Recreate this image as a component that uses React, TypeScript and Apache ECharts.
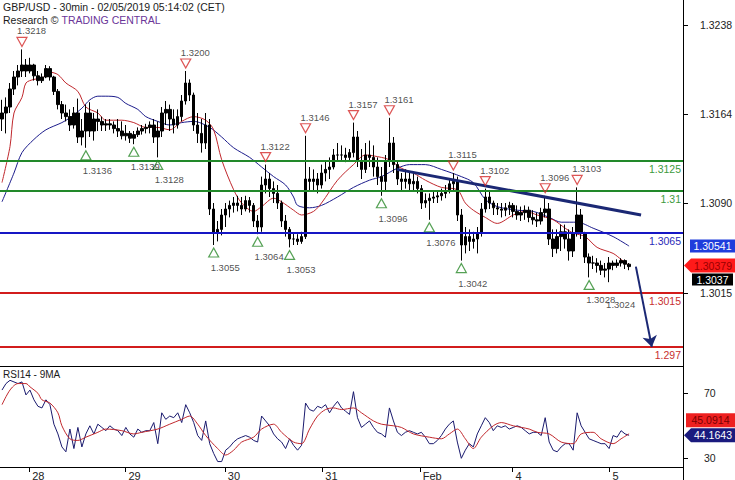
import React, { useEffect, useRef } from "react";
import * as echarts from "echarts";

// ---------------- data (hourly slots) ----------------
const SLOT_COUNT = 171;
const firstOpen = 1.316;
const highs = [
  1.3176, 1.3178, 1.319, 1.32, 1.3205, 1.3218, 1.321, 1.3211, 1.3206, 1.32,
  1.3198, 1.3205, 1.3204, 1.3196, 1.3185, 1.3175, 1.3172, 1.3168, 1.317, 1.3177,
  1.316, 1.3172, 1.3174, 1.3165, 1.3168, 1.3162, 1.316, 1.316, 1.3158, 1.316,
  1.3158, 1.3155, 1.315, 1.315, 1.3153, 1.3155, 1.3156, 1.3158, 1.316, 1.3158,
  1.317, 1.3175, 1.3172, 1.3168, 1.3168, 1.318, 1.32, 1.3193, 1.3182, 1.3165,
  1.316, 1.3165, 1.316, 1.309, 1.3075, 1.3085, 1.309, 1.3092, 1.3095, 1.3096,
  1.3095, 1.3096, 1.3095, 1.309, 1.308, 1.3112, 1.3122, 1.3115, 1.3108, 1.3105,
  1.3092, 1.308, 1.307, 1.3065, 1.3064, 1.3066, 1.3146, 1.312, 1.3118, 1.3115,
  1.3122, 1.3125, 1.3128, 1.3135, 1.314, 1.3138, 1.3136, 1.3135, 1.3157, 1.315,
  1.3135, 1.314, 1.3142, 1.3138, 1.3128, 1.312, 1.313, 1.3161, 1.3145, 1.3125,
  1.3115, 1.3118, 1.3116, 1.3115, 1.3112, 1.3105, 1.3098, 1.3098, 1.31, 1.31,
  1.3102, 1.3105, 1.311, 1.3115, 1.3112, 1.3085, 1.307, 1.3068, 1.3066, 1.307,
  1.309, 1.3102, 1.31, 1.3092, 1.309, 1.309, 1.309, 1.3091, 1.309, 1.3088,
  1.3087, 1.3088, 1.3087, 1.3084, 1.3082, 1.3086, 1.3096, 1.309, 1.3068, 1.3068,
  1.3072, 1.3072, 1.3068, 1.307, 1.3103, 1.3085, 1.3066, 1.3048, 1.3046, 1.3044,
  1.3042, 1.304, 1.3045, 1.3042, 1.3043, 1.3044, 1.3043, 1.304,
];
const lows = [
  1.315, 1.3148, 1.3165, 1.318, 1.3188, 1.3195, 1.3195, 1.3198, 1.3192, 1.3188,
  1.319, 1.3194, 1.3192, 1.318, 1.3168, 1.316, 1.3158, 1.315, 1.3152, 1.314,
  1.3138, 1.3136, 1.3145, 1.3142, 1.315, 1.315, 1.315, 1.3151, 1.3148, 1.3145,
  1.3143, 1.3142, 1.314, 1.3139, 1.3145, 1.3147, 1.3148, 1.3148, 1.314, 1.3128,
  1.3145, 1.3155, 1.315, 1.3148, 1.3152, 1.3158, 1.3172, 1.3175, 1.315, 1.314,
  1.3132, 1.3135, 1.308, 1.3055, 1.3058, 1.3063, 1.307, 1.3078, 1.3082, 1.3083,
  1.308, 1.3083, 1.3082, 1.307, 1.3064, 1.3066, 1.3098, 1.3095, 1.309, 1.3085,
  1.307, 1.3062, 1.3053, 1.3055, 1.3055, 1.3056, 1.306, 1.31, 1.31, 1.3098,
  1.3102, 1.3108, 1.311, 1.3118, 1.3125, 1.3125, 1.3124, 1.3125, 1.3128, 1.312,
  1.311, 1.3115, 1.312, 1.3112, 1.3105, 1.3096, 1.31, 1.312, 1.3115, 1.3105,
  1.31, 1.3102, 1.31, 1.31, 1.3098, 1.3085, 1.3086, 1.3076, 1.309, 1.309,
  1.3092, 1.3094, 1.3098, 1.31, 1.3075, 1.3042, 1.3048, 1.305, 1.3052, 1.3048,
  1.3062, 1.3082, 1.3085, 1.308, 1.308, 1.3078, 1.3079, 1.308, 1.3078, 1.3076,
  1.3075, 1.3076, 1.3074, 1.3072, 1.307, 1.3072, 1.3078, 1.3055, 1.3045, 1.3048,
  1.305, 1.3052, 1.3042, 1.3045, 1.3062, 1.306, 1.304, 1.3028, 1.3035, 1.3032,
  1.303, 1.3028, 1.3024, 1.3034, 1.3036, 1.3037, 1.3035, 1.3034,
];
const closes = [
  1.3165, 1.317, 1.3185, 1.3195, 1.32, 1.3205, 1.32, 1.3205, 1.3196, 1.3192,
  1.3195, 1.3202, 1.3195, 1.3183, 1.3172, 1.3165, 1.3162, 1.3155, 1.3165, 1.3145,
  1.315, 1.3165, 1.315, 1.316, 1.3158, 1.3155, 1.3156, 1.3155, 1.3152, 1.315,
  1.3146, 1.3148, 1.3144, 1.3147, 1.315, 1.3152, 1.3153, 1.3155, 1.3145, 1.315,
  1.3165, 1.3168, 1.316, 1.3155, 1.3162, 1.3175, 1.319, 1.318, 1.3155, 1.3148,
  1.314, 1.3155, 1.3085, 1.3065, 1.3068, 1.308, 1.3085, 1.3088, 1.309, 1.3088,
  1.3085, 1.3092, 1.3088, 1.3075, 1.307, 1.3105, 1.311, 1.3102, 1.3098, 1.309,
  1.3075, 1.3068, 1.306, 1.306, 1.3058, 1.3062, 1.311, 1.3108, 1.311, 1.3105,
  1.3115, 1.3118, 1.312, 1.313, 1.313, 1.313, 1.3128, 1.3132, 1.3145, 1.3125,
  1.3118, 1.313, 1.3128, 1.312, 1.3112, 1.3108, 1.3125, 1.314, 1.3122, 1.311,
  1.3108, 1.311, 1.3106, 1.3108, 1.3102, 1.309, 1.3092, 1.3094, 1.3095, 1.3096,
  1.3098, 1.31, 1.3106, 1.3108, 1.308, 1.3055, 1.3062, 1.3058, 1.306, 1.3065,
  1.3085, 1.3095, 1.309, 1.3086, 1.3085, 1.3084, 1.3086, 1.3088, 1.3083, 1.308,
  1.3082, 1.3084, 1.3078, 1.3076, 1.3075, 1.3082, 1.3085, 1.306, 1.3052, 1.3062,
  1.3066, 1.306, 1.305, 1.3065, 1.308, 1.3065, 1.3045, 1.304, 1.304, 1.3038,
  1.3034, 1.3035, 1.304, 1.3038, 1.304, 1.3042, 1.3039, 1.3037,
];
const rsi14 = [
  72, 76, 78, 77, 76, 77, 69, 72, 66, 62,
  61, 66, 63, 51, 45, 37, 34, 48, 36, 49,
  37, 45, 50, 45, 51, 49, 47, 50, 48, 47,
  44, 49, 45, 43, 48, 46, 47, 47, 52, 39,
  58, 54, 56, 55, 58, 52, 63, 58, 52, 44,
  41, 53, 39, 33, 28, 28, 35, 37, 40, 42,
  43, 44, 43, 41, 40, 56, 53, 50, 45, 42,
  40, 36, 42, 38, 35, 38, 64, 60, 59, 62,
  61, 63, 58, 62, 65, 61, 59, 57, 71, 55,
  49, 51, 53, 49, 46, 45, 43, 61, 53, 46,
  44, 46, 47, 46, 45, 46, 43, 39, 39, 41,
  44, 48, 51, 53, 40, 30, 35, 39, 37, 45,
  50, 55, 52, 47, 50, 49, 50, 48, 49, 50,
  49, 47, 45, 46, 46, 44, 55, 40, 35, 34,
  37, 39, 39, 35, 58, 50, 46, 42, 41, 40,
  39, 39, 36, 44, 43, 47, 45, 44.1643,
];
const priceMaRed = [
  [0, 1.3107], [2, 1.3137], [3, 1.3165], [5, 1.3178], [6, 1.319], [8, 1.3193], [10, 1.3194],
  [12, 1.3199], [14, 1.3197], [16, 1.319], [19, 1.3183], [21, 1.317], [24, 1.3165], [26, 1.3159],
  [30, 1.3159], [33, 1.3157], [36, 1.3153], [39, 1.3153], [42, 1.3151], [45, 1.3158], [48, 1.3162],
  [51, 1.3159], [53, 1.3151], [55, 1.3126], [58, 1.3101], [60, 1.309], [63, 1.3083], [65, 1.3087],
  [68, 1.3094], [70, 1.3091], [73, 1.3084], [75, 1.308], [78, 1.3083], [80, 1.309], [84, 1.3109],
  [88, 1.3122], [91, 1.313], [95, 1.3128], [97, 1.3126], [100, 1.3119], [103, 1.3115], [106, 1.3109],
  [110, 1.3103], [114, 1.3101], [116, 1.309], [118, 1.3084], [121, 1.3078], [124, 1.3073], [128, 1.308],
  [131, 1.3083], [134, 1.308], [138, 1.3076], [141, 1.3069], [143, 1.3065], [146, 1.3062], [149, 1.3053],
  [153, 1.3048], [155, 1.3043], [157, 1.30379],
];
const priceMaBlue = [
  [0, 1.3091], [3, 1.3115], [5, 1.3132], [8, 1.3143], [11, 1.3151], [15, 1.3157], [17, 1.3161],
  [20, 1.3169], [22, 1.3176], [24, 1.3179], [26, 1.3179], [29, 1.3178], [31, 1.3173], [34, 1.3168],
  [36, 1.3162], [39, 1.3158], [42, 1.3155], [45, 1.3157], [48, 1.3158], [52, 1.3153], [55, 1.3145],
  [58, 1.3136], [62, 1.3128], [65, 1.312], [68, 1.3112], [71, 1.3105], [73, 1.3095], [74, 1.3088],
  [77, 1.3086], [80, 1.3088], [84, 1.3095], [88, 1.3103], [92, 1.3109], [95, 1.3112], [99, 1.3119],
  [102, 1.3122], [106, 1.3122], [110, 1.3118], [115, 1.3112], [118, 1.3107], [121, 1.3093], [124, 1.3087],
  [129, 1.3084], [133, 1.3083], [137, 1.3078], [140, 1.3074], [144, 1.3074], [148, 1.3069], [153, 1.3062],
  [157, 1.30541],
];
const rsiMa9 = [
  [0, 63], [2, 72], [4, 76], [6, 76], [7, 74], [9, 70], [10, 66], [12, 64], [14, 58], [15, 50],
  [17, 42], [19, 41], [21, 43], [24, 46], [26, 48], [30, 47], [33, 45], [35, 46], [39, 48], [42, 51],
  [45, 54], [47, 56], [49, 51], [51, 44], [54, 36], [56, 32], [58, 35], [60, 40], [63, 43], [65, 48],
  [68, 51], [70, 46], [73, 40], [75, 39], [77, 48], [79, 56], [81, 60], [83, 61], [85, 60], [88, 61],
  [90, 58], [93, 53], [95, 51], [98, 50], [100, 49], [103, 45], [107, 43], [110, 42], [112, 45],
  [114, 48], [116, 42], [118, 36], [120, 43], [123, 50], [125, 52], [128, 50], [132, 48], [134, 46],
  [137, 45], [140, 40], [143, 39], [145, 45], [148, 46], [150, 42], [153, 39], [155, 42], [157, 45.0914],
];
const dayTicks = [6.8, 30.9, 55.8, 80.2, 104.6, 127.8, 152.1];
const dayLabels = ["28", "29", "30", "31", "Feb", "4", "5"];
const priceTicks = [1.3015, 1.309, 1.3164, 1.3238];
const rsiTicks = [30, 70];
const levelValues = [1.3125, 1.31, 1.3065, 1.3015, 1.297];
const levelLabels = ["1.3125", "1.31", "1.3065", "1.3015", "1.297"];
const swingHighs = [
  [5, 1.3218], [46, 1.32], [66, 1.3122], [76, 1.3146], [88, 1.3157],
  [97, 1.3161], [113, 1.3115], [121, 1.3102], [136, 1.3096], [144, 1.3103],
];
const swingLows = [
  [21, 1.3136], [33, 1.3139], [39, 1.3128], [53, 1.3055], [64, 1.3064],
  [72, 1.3053], [95, 1.3096], [107, 1.3076], [115, 1.3042], [147, 1.3028],
];
const unmarkedLows = [[152, 1.3024]];
const trendLine = [[98.9, 1.3118], [160, 1.308]];
const targetArrow = [[158.7, 1.3037], [162.7, 1.297]];
const lastClose = 1.3037;
const lastMaRed = 1.30379;
const lastMaBlue = 1.30541;
const lastRsi = 44.1643;
const lastRsiMa = 45.0914;
const titleText = "GBP/USD - 30min - 02/05/2019 05:14:02 (CET)";
const panelText = "RSI14 - 9MA";

// ---------------- styles ----------------
const FONT = "'Liberation Sans', Arial, sans-serif";
const levelColors = ["#22892a", "#22892a", "#1616c4", "#d21c1c", "#d21c1c"];
const levelTextColors = ["#3c9a3c", "#3c9a3c", "#2a2ab8", "#c83030", "#c83030"];

export default function App() {
  const ref = useRef<HTMLDivElement>(null);

  useEffect(() => {
    const el = ref.current!;
    const chart = echarts.init(el, null, { renderer: "svg" });
    const categories = Array.from({ length: SLOT_COUNT }, (_, i) => String(i));
    const candleData = closes.map((c, i) => [i === 0 ? firstOpen : closes[i - 1], c, lows[i], highs[i]]);
    const yMin = 1.3015 - 73 / 12000;
    const yMax = 1.3015 + 293 / 12000;

    const markerLabel = (pos: string, dist: number, dx: number) => ({
      show: true,
      position: pos,
      distance: dist,
      align: "left",
      offset: [dx, 0],
      color: "#222",
      fontSize: 9.5,
      fontFamily: FONT,
      formatter: (p: any) => Number(p.value[1]).toFixed(4),
    });

    const option: any = {
      animation: false,
      backgroundColor: "#fff",
      textStyle: { fontFamily: FONT },
      grid: [
        { left: 0, right: 52, top: 0, height: 366, outerBoundsMode: "none" },
        { left: 0, right: 52, top: 366, height: 101, outerBoundsMode: "none" },
      ],
      xAxis: [
        { type: "category", gridIndex: 0, data: categories, show: false, position: "top", boundaryGap: true },
        {
          type: "value", gridIndex: 0, position: "bottom", min: -0.5, max: SLOT_COUNT - 0.5,
          axisLine: { show: true, onZero: false, lineStyle: { color: "#000", width: 1 } },
          axisTick: { show: false }, axisLabel: { show: false }, splitLine: { show: false },
        },
        {
          type: "value", gridIndex: 1, position: "bottom", min: -0.5, max: SLOT_COUNT - 0.5,
          axisLine: { show: true, onZero: false, lineStyle: { color: "#000", width: 1 } },
          axisTick: { show: true, customValues: dayTicks, length: 5, lineStyle: { color: "#000" } },
          axisLabel: {
            show: true, customValues: dayTicks, align: "left", margin: 3, padding: [0, 0, 0, 3],
            fontSize: 11, color: "#222", fontFamily: FONT,
            formatter: (v: number) => {
              const k = dayTicks.findIndex((t) => Math.abs(t - v) < 0.01);
              return k >= 0 ? dayLabels[k] : "";
            },
          },
          splitLine: { show: false },
        },
      ],
      yAxis: [
        {
          type: "value", gridIndex: 0, position: "right", min: yMin, max: yMax,
          axisLine: { show: true, onZero: false, lineStyle: { color: "#000", width: 1 } },
          axisTick: { show: true, customValues: priceTicks, length: 5, lineStyle: { color: "#000" } },
          axisLabel: {
            show: true, customValues: priceTicks, margin: 17, fontSize: 10.5, color: "#222", fontFamily: FONT,
            formatter: (v: number) => v.toFixed(4),
          },
          splitLine: { show: false },
        },
        {
          type: "value", gridIndex: 1, position: "right", min: 24.65, max: 86.8,
          axisLine: { show: true, onZero: false, lineStyle: { color: "#000", width: 1 } },
          axisTick: { show: true, customValues: rsiTicks, length: 5, lineStyle: { color: "#000" } },
          axisLabel: {
            show: true, customValues: rsiTicks, margin: 21, fontSize: 10.5, color: "#222", fontFamily: FONT,
            formatter: (v: number) => String(Math.round(v)),
          },
          splitLine: { show: false },
        },
      ],
      series: [
        {
          name: "maBlue", type: "line", xAxisIndex: 1, yAxisIndex: 0, data: priceMaBlue,
          symbol: "none", smooth: 0.3, silent: true, z: 2,
          lineStyle: { color: "#1c1c8c", width: 1 },
          markLine: {
            silent: true, symbol: ["none", "none"], animation: false, precision: 5,
            data: levelValues.map((v, i) => ({
              yAxis: v,
              lineStyle: { color: levelColors[i], width: 2, type: "solid" },
              label: {
                show: true, position: "insideEndBottom", distance: 2, formatter: levelLabels[i],
                color: levelTextColors[i], fontSize: 10.5, fontFamily: FONT,
              },
            })),
          },
        },
        {
          name: "maRed", type: "line", xAxisIndex: 1, yAxisIndex: 0, data: priceMaRed,
          symbol: "none", smooth: 0.3, silent: true, z: 2,
          lineStyle: { color: "#c0282d", width: 1 },
        },
        {
          name: "price", type: "candlestick", xAxisIndex: 0, yAxisIndex: 0, data: candleData,
          barWidth: 3, silent: true, z: 3,
          itemStyle: { color: "#000", color0: "#000", borderColor: "#000", borderColor0: "#000", borderWidth: 1 },
        },
        {
          name: "trend", type: "line", xAxisIndex: 1, yAxisIndex: 0, data: trendLine,
          symbol: "none", silent: true, z: 4,
          lineStyle: { color: "#1b2874", width: 3 },
          markLine: {
            silent: true, symbol: ["none", "arrow"], symbolSize: 11, animation: false, precision: 5,
            label: { show: false },
            lineStyle: { color: "#1b2874", width: 2, type: "solid" },
            data: [[{ coord: targetArrow[0] }, { coord: targetArrow[1] }]],
          },
        },
        {
          name: "highs", type: "scatter", xAxisIndex: 1, yAxisIndex: 0, data: swingHighs,
          symbol: "path://M0,0L10,0L5,9Z", symbolSize: [10, 9], symbolOffset: [0, -7.5], silent: true, z: 5,
          itemStyle: { color: "rgba(0,0,0,0)", borderColor: "#d42a2a", borderWidth: 1.2 },
          label: markerLabel("top", 1, -5),
        },
        {
          name: "lows", type: "scatter", xAxisIndex: 1, yAxisIndex: 0, data: swingLows,
          symbol: "path://M5,0L10,9L0,9Z", symbolSize: [10, 9], symbolOffset: [0, 7.5], silent: true, z: 5,
          itemStyle: { color: "rgba(0,0,0,0)", borderColor: "#2a8a2a", borderWidth: 1.2 },
          label: markerLabel("bottom", 5, -3),
        },
        {
          name: "lowsLabelOnly", type: "scatter", xAxisIndex: 1, yAxisIndex: 0, data: unmarkedLows,
          symbol: "path://M5,0L10,9L0,9Z", symbolSize: [10, 9], symbolOffset: [0, 7.5], silent: true, z: 5,
          itemStyle: { color: "rgba(0,0,0,0)", borderColor: "rgba(0,0,0,0)", borderWidth: 0 },
          label: markerLabel("bottom", 5, -3),
        },
        {
          name: "rsi", type: "line", xAxisIndex: 2, yAxisIndex: 1,
          data: rsi14.map((v, i) => [i, v]), symbol: "none", silent: true, z: 2,
          lineStyle: { color: "#1a1a6e", width: 1 },
        },
        {
          name: "rsiMa", type: "line", xAxisIndex: 2, yAxisIndex: 1, data: rsiMa9,
          symbol: "none", smooth: 0.3, silent: true, z: 3,
          lineStyle: { color: "#c0282d", width: 1 },
        },
      ],
    };

    chart.setOption(option);

    const W = chart.getWidth();
    const gx = W - 52;
    const py = (v: number) => chart.convertToPixel({ yAxisIndex: 0 }, v) as number;
    const ry = (v: number) => chart.convertToPixel({ yAxisIndex: 1 }, v) as number;
    const bottomY = ry(24.65);
    const tagFont = `10.5px ${FONT}`;

    const yB = py(lastMaBlue);
    const yR = py(lastMaRed);
    const yK = yR + 8 + 6;
    const yN = ry(lastRsi);
    const yRm = yN - 8 - 7;

    const graphics: any[] = [
      { type: "text", x: 3, y: 1, silent: true, style: { text: titleText, fill: "#1a1a1a", font: tagFont } },
      {
        type: "text", x: 3, y: 14, silent: true,
        style: {
          text: "{a|Research © }{b|TRADING CENTRAL}", font: tagFont,
          rich: { a: { fill: "#1a1a1a", font: tagFont }, b: { fill: "#6a3598", font: tagFont } },
        },
      },
      { type: "text", x: 3, y: 369, silent: true, style: { text: panelText, fill: "#1a1a1a", font: `10px ${FONT}` } },
      { type: "line", silent: true, shape: { x1: gx + 0.5, y1: bottomY, x2: gx + 0.5, y2: 480 }, style: { stroke: "#000", lineWidth: 1 } },
      // blue MA tag
      { type: "rect", silent: true, shape: { x: gx + 7, y: yB - 6.5, width: W - gx - 7, height: 13 }, style: { fill: "#1f3ddc" } },
      { type: "text", silent: true, x: gx + 7 + (W - gx - 7) / 2, y: yB, style: { text: lastMaBlue.toFixed(5), fill: "#fff", font: tagFont, align: "center", verticalAlign: "middle" } },
      // red MA tag (arrow)
      {
        type: "polygon", silent: true,
        shape: { points: [[gx + 1, yR], [gx + 8, yR - 7], [W, yR - 7], [W, yR + 7], [gx + 8, yR + 7]] },
        style: { fill: "#ff1a1a" },
      },
      { type: "text", silent: true, x: gx + 8 + (W - gx - 8) / 2, y: yR, style: { text: lastMaRed.toFixed(5), fill: "#9a0000", font: tagFont, align: "center", verticalAlign: "middle" } },
      // last close tag
      { type: "rect", silent: true, shape: { x: gx + 9, y: yK - 6, width: 41, height: 12 }, style: { fill: "#000" } },
      { type: "text", silent: true, x: gx + 9 + 20.5, y: yK, style: { text: lastClose.toFixed(4), fill: "#fff", font: tagFont, align: "center", verticalAlign: "middle" } },
      // RSI MA tag
      { type: "rect", silent: true, shape: { x: gx + 3, y: yRm - 7, width: W - gx - 3, height: 14 }, style: { fill: "#ee2020" } },
      { type: "text", silent: true, x: gx + 3 + (W - gx - 3) / 2, y: yRm, style: { text: lastRsiMa.toFixed(4), fill: "#7a0000", font: tagFont, align: "center", verticalAlign: "middle" } },
      // RSI tag (arrow)
      {
        type: "polygon", silent: true,
        shape: { points: [[gx + 1, yN], [gx + 8, yN - 7], [W, yN - 7], [W, yN + 7], [gx + 8, yN + 7]] },
        style: { fill: "#1a1a7e" },
      },
      { type: "text", silent: true, x: gx + 8 + (W - gx - 8) / 2, y: yN, style: { text: lastRsi.toFixed(4), fill: "#fff", font: tagFont, align: "center", verticalAlign: "middle" } },
    ];

    chart.setOption({ graphic: graphics });

    return () => chart.dispose();
  }, []);

  return (
    <div
      ref={ref}
      style={{ position: "fixed", left: 0, top: 0, width: 735, height: 480, background: "#fff" }}
    />
  );
}
